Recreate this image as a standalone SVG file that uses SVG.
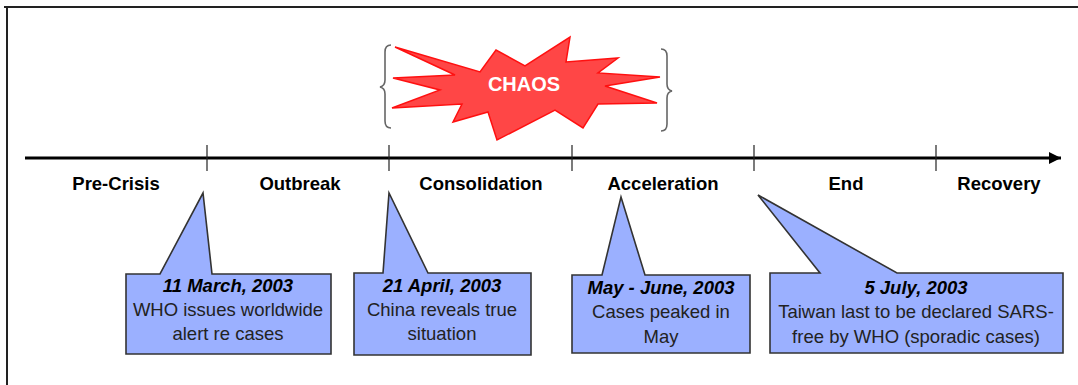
<svg xmlns="http://www.w3.org/2000/svg" width="1078" height="385" viewBox="0 0 1078 385">
  <defs>
    <style>
      .frame { fill: none; stroke: #222; stroke-width: 2; }
      .axis { stroke: #000; stroke-width: 3; }
      .tick { stroke: #222; stroke-width: 1.2; }
      .phase { font-family: "Liberation Sans", Arial, sans-serif; font-weight: bold; font-size: 18.5px; fill: #000; text-anchor: middle; }
      .brace { fill: none; stroke: #666; stroke-width: 1.6; }
      .burst { fill: #FF4646; stroke: #FF1010; stroke-width: 1.5; stroke-linejoin: miter; }
      .burst-label { font-family: "Liberation Sans", Arial, sans-serif; font-weight: bold; font-size: 20px; fill: #fff; text-anchor: middle; }
      .callout { fill: #9BB0FF; stroke: #333; stroke-width: 1.6; stroke-linejoin: miter; }
      .date { font-family: "Liberation Sans", Arial, sans-serif; font-weight: bold; font-style: italic; font-size: 18.5px; fill: #000; text-anchor: middle; }
      .note { font-family: "Liberation Sans", Arial, sans-serif; font-size: 18.5px; fill: #222; text-anchor: middle; }
    </style>
    <marker id="arrowhead" markerUnits="userSpaceOnUse" markerWidth="14" markerHeight="14" refX="12" refY="7" orient="auto">
      <path d="M0,1 L12,7 L0,13 Z" fill="#000"/>
    </marker>
  </defs>

  <rect width="1078" height="385" fill="#fff"/>
  <!-- page frame: top and left edges -->
  <path class="frame" d="M4,7 H1078 M7,7 V385"/>

  <!-- timeline axis -->
  <g id="timeline">
    <line class="axis" x1="25" y1="158" x2="1061" y2="158" marker-end="url(#arrowhead)"/>
    <line class="tick" x1="207" y1="145" x2="207" y2="171"/>
    <line class="tick" x1="389" y1="145" x2="389" y2="171"/>
    <line class="tick" x1="572" y1="145" x2="572" y2="171"/>
    <line class="tick" x1="754" y1="145" x2="754" y2="171"/>
    <line class="tick" x1="936" y1="145" x2="936" y2="171"/>
  </g>

  <!-- phase labels -->
  <g id="phases">
    <text class="phase" x="116" y="190">Pre-Crisis</text>
    <text class="phase" x="300" y="190">Outbreak</text>
    <text class="phase" x="481" y="190">Consolidation</text>
    <text class="phase" x="663" y="190">Acceleration</text>
    <text class="phase" x="846" y="190">End</text>
    <text class="phase" x="999" y="190">Recovery</text>
  </g>

  <!-- chaos burst between braces -->
  <g id="chaos">
    <path class="brace" d="M391,45 Q385,45 385,52 V80 Q385,86 380,87 Q385,88 385,94 V121 Q385,128 391,128"/>
    <path class="brace" d="M661,49 Q667,49 667,56 V84 Q667,90 672,91 Q667,92 667,98 V124 Q667,131 661,131"/>
    <polygon class="burst" points="395,47 480,72 496,50 525,66 570,37 566,62 618,58 598,73 660,77 605,86 657,103 598,104 583,128 555,110 497,140 488,112 453,122 462,104 392,108 440,90 393,78 455,75"/>
    <text class="burst-label" x="524" y="91">CHAOS</text>
  </g>

  <!-- event callouts -->
  <g id="event-march">
    <path class="callout" d="M126,274 H160 L203,193 L212,274 H331 V354 H126 Z"/>
    <text class="date" x="228" y="292">11 March, 2003</text>
    <text class="note" x="228" y="316">WHO issues worldwide</text>
    <text class="note" x="228" y="340">alert re cases</text>
  </g>

  <g id="event-april">
    <path class="callout" d="M354,273 H383 L389,193 L428,273 H531 V355 H354 Z"/>
    <text class="date" x="442" y="292">21 April, 2003</text>
    <text class="note" x="442" y="316">China reveals true</text>
    <text class="note" x="442" y="340">situation</text>
  </g>

  <g id="event-may">
    <path class="callout" d="M572,275 H602 L621,197 L645,275 H750 V353 H572 Z"/>
    <text class="date" x="661" y="294">May - June, 2003</text>
    <text class="note" x="661" y="318">Cases peaked in</text>
    <text class="note" x="661" y="343">May</text>
  </g>

  <g id="event-july">
    <path class="callout" d="M770,273 H820 L758,195 L897,273 H1063 V353 H770 Z"/>
    <text class="date" x="916" y="294">5 July, 2003</text>
    <text class="note" x="916" y="318">Taiwan last to be declared SARS-</text>
    <text class="note" x="916" y="343">free by WHO (sporadic cases)</text>
  </g>
</svg>
